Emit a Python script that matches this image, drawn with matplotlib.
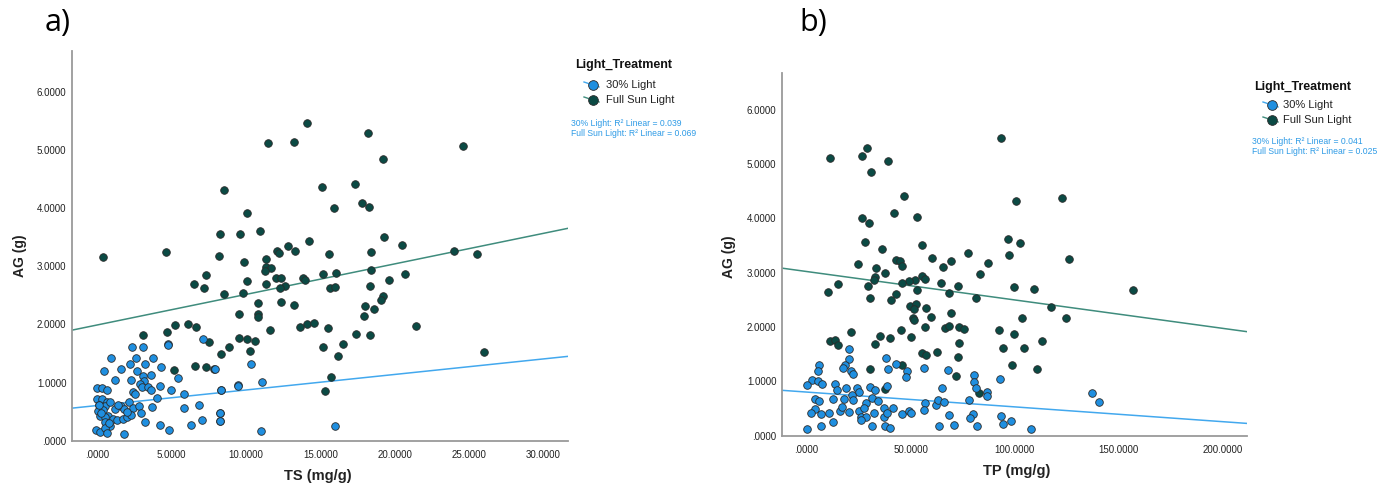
import matplotlib
matplotlib.use("Agg")
import matplotlib.pyplot as plt
from matplotlib.lines import Line2D
from matplotlib.ticker import FixedLocator, FuncFormatter
import numpy as np

plt.rcParams['font.family'] = ['Liberation Sans', 'DejaVu Sans']

# ---------------- data: panel a (TS vs AG) ----------------
a_low_ts = [2.36, 3.05, 4.73, 0.90, 0.47, 1.59, 2.2, 2.6, 3.23, 2.69, 3.72, 4.3, 1.17, 2.29, 3.05, 3.14,
            3.63, 2.85, 3.02, 3.43, 3.63, 4.21, 2.42, 2.56, 4.98, 5.45, 5.85, 4.04, -0.02, 0.34, 0.67,
            -0.02, 0.32, 0.67, 0.09, 0.5, 0.88, 0.03, 0.38, 0.72, 0.19, 0.54, 1.21, 1.57, 1.82, 2.13,
            2.38, 2.78, 2.96, 1.03, 1.32, 1.7, 1.97, 2.29, 3.66, 3.19, 0.5, 0.83, -0.09, 0.19, 0.54,
            0.65, 1.82, 4.24, 4.84, 5.83, 6.84, 6.32, 7.04, 8.23, 8.23, 8.3, 9.44, 7.08, 7.9, 9.46,
            11.05, 10.33, 11.02, 15.96, 8.31, 8.28, 8.28, 4.73, 0.25, 0.1, 1.4, 2.0, 0.8]
a_low_ag = [1.61, 1.61, 1.67, 1.43, 1.19, 1.23, 1.32, 1.42, 1.32, 1.20, 1.43, 1.26, 1.04, 1.04, 1.12, 1.02,
            1.13, 0.98, 0.93, 0.92, 0.88, 0.94, 0.84, 0.81, 0.88, 1.08, 0.81, 0.74, 0.90, 0.90, 0.87,
            0.72, 0.72, 0.67, 0.61, 0.59, 0.67, 0.51, 0.52, 0.43, 0.43, 0.40, 0.54, 0.60, 0.55, 0.66,
            0.56, 0.60, 0.47, 0.37, 0.36, 0.38, 0.41, 0.45, 0.58, 0.33, 0.32, 0.25, 0.19, 0.15, 0.22,
            0.14, 0.11, 0.27, 0.18, 0.57, 0.61, 0.27, 0.35, 0.47, 0.34, 0.88, 0.95, 1.74, 1.24, 0.94,
            1.01, 1.32, 0.17, 0.26, 0.88, 0.34, 0.47, 1.65, 0.48, 0.62, 0.62, 0.5, 0.3]

a_full_ts = [0.39, 4.64, 8.49, 11.5, 13.2, 14.1, 18.2, 24.6, 19.2, 15.1, 17.3, 17.8, 18.3, 15.9, 10.1, 8.22,
             9.61, 10.96, 14.25, 19.25, 20.5, 18.4, 24.0, 25.5, 15.6, 12.8, 13.3, 12.1, 12.2, 8.19, 9.85,
             11.36, 11.36, 11.7, 11.3, 18.4, 7.32, 12.0, 12.35, 15.2, 16.05, 20.7, 13.8, 14.0, 10.1, 6.48,
             7.17, 11.36, 12.6, 12.26, 15.66, 15.96, 18.35, 19.6, 8.52, 9.79, 19.2, 19.1, 10.8, 12.35,
             13.2, 18.0, 18.6, 9.55, 10.8, 10.8, 17.9, 14.1, 14.6, 13.6, 21.4, 5.21, 6.08, 6.66, 11.6,
             4.67, 15.5, 17.4, 18.34, 3.07, 9.55, 10.1, 10.6, 7.5, 8.83, 15.2, 16.5, 10.3, 8.31, 16.2,
             26.0, 6.54, 7.32, 7.83, 5.18, 15.7, 15.3]
a_full_ag = [3.15, 3.25, 4.31, 5.12, 5.14, 5.47, 5.29, 5.06, 4.85, 4.37, 4.41, 4.09, 4.02, 4.0, 3.91, 3.56,
             3.55, 3.61, 3.44, 3.51, 3.36, 3.25, 3.27, 3.21, 3.21, 3.34, 3.26, 3.27, 3.22, 3.18, 3.08,
             3.12, 2.98, 2.97, 2.91, 2.94, 2.85, 2.8, 2.8, 2.87, 2.89, 2.86, 2.79, 2.77, 2.75, 2.69,
             2.62, 2.69, 2.66, 2.62, 2.62, 2.64, 2.66, 2.77, 2.53, 2.54, 2.49, 2.42, 2.36, 2.39,
             2.33, 2.32, 2.26, 2.17, 2.18, 2.13, 2.15, 2.01, 2.03, 1.95, 1.97, 1.99, 2.0, 1.95, 1.9,
             1.87, 1.94, 1.84, 1.82, 1.81, 1.76, 1.74, 1.71, 1.69, 1.61, 1.61, 1.67, 1.55, 1.49, 1.46,
             1.53, 1.29, 1.27, 1.24, 1.22, 1.09, 0.86]

# ---------------- data: panel b (TP vs AG) ----------------
b_low_tp = [20.3, 20.6, 18.4, 17.6, 21.6, 22.2, 38.4, 42.9, 39.0, 48.5, 47.7, 56.5, 67.8, 80.5, 92.8, 6.1,
            5.4, 2.6, 5.8, 7.5, 0.5, 13.8, 14.7, 19.2, 24.2, 25.4, 30.7, 33.0, 38.9, 65.3, 80.5, 81.3,
            86.6, 86.9, 137.3, 140.6, 12.8, 4.2, 6.1, 18.2, 22.1, 22.2, 31.7, 34.6, 28.6, 37.1, 41.4,
            57.1, 62.1, 63.0, 66.2, 78.1, 56.5, 4.2, 2.2, 6.9, 10.9, 16.0, 17.1, 20.6, 25.4, 27.7, 26.4,
            28.8, 32.6, 37.4, 38.7, 45.8, 49.1, 50.4, 68.6, 79.8, 78.6, 93.4, 98.2, 94.6, 12.8, 26.4,
            31.7, 37.6, 40.3, 6.9, 0.5, 63.8, 70.9, 81.8, 107.8]
b_low_ag = [1.60, 1.41, 1.30, 1.24, 1.18, 1.13, 1.42, 1.31, 1.22, 1.18, 1.08, 1.24, 1.20, 1.11, 1.04, 1.30,
            1.19, 1.02, 1.00, 0.95, 0.93, 0.94, 0.83, 0.88, 0.87, 0.81, 0.89, 0.84, 0.91, 0.87, 0.98, 0.87,
            0.80, 0.72, 0.78, 0.61, 0.68, 0.67, 0.64, 0.68, 0.75, 0.65, 0.69, 0.63, 0.60, 0.51, 0.50,
            0.59, 0.57, 0.66, 0.61, 0.66, 0.47, 0.49, 0.41, 0.39, 0.42, 0.45, 0.52, 0.43, 0.45, 0.50, 0.34,
            0.34, 0.42, 0.34, 0.42, 0.40, 0.46, 0.42, 0.37, 0.40, 0.32, 0.35, 0.26, 0.21, 0.25, 0.28,
            0.17, 0.17, 0.14, 0.17, 0.12, 0.17, 0.19, 0.17, 0.12]

b_full_tp = [93.6, 11.5, 26.7, 29.1, 39.0, 30.9, 46.7, 100.5, 122.7, 42.2, 53.3, 26.7, 29.9, 28.2, 36.2,
             55.7, 96.6, 102.4, 97.1, 77.6, 125.9, 60.2, 87.0, 69.3, 65.6, 42.9, 45.1, 46.1, 24.6, 33.3,
             37.6, 32.96, 32.3, 55.5, 57.0, 52.0, 49.1, 45.8, 29.4, 15.2, 64.8, 73.0, 99.8, 109.3, 156.8,
             10.6, 53.1, 68.6, 30.6, 42.9, 40.6, 81.6, 83.4, 49.9, 52.8, 51.7, 57.3, 69.4, 117.3, 124.8,
             51.4, 51.7, 59.8, 103.7, 57.1, 66.4, 68.6, 73.4, 75.5, 92.6, 45.4, 21.6, 35.2, 40.3, 50.2,
             99.8, 73.1, 113.1, 11.4, 13.9, 15.2, 33.0, 94.6, 104.5, 55.5, 57.3, 62.9, 73.0, 98.9, 45.8,
             110.6, 30.7, 72.0, 37.9, 82.7]
b_full_ag = [5.48, 5.11, 5.14, 5.30, 5.06, 4.86, 4.41, 4.31, 4.37, 4.09, 4.02, 4.0, 3.91, 3.56, 3.44,
             3.51, 3.61, 3.55, 3.33, 3.36, 3.25, 3.26, 3.18, 3.21, 3.11, 3.24, 3.22, 3.12, 3.16, 3.09,
             3.0, 2.91, 2.86, 2.94, 2.89, 2.87, 2.85, 2.81, 2.76, 2.79, 2.81, 2.76, 2.74, 2.69, 2.68,
             2.65, 2.67, 2.62, 2.54, 2.61, 2.50, 2.54, 2.97, 2.39, 2.42, 2.33, 2.34, 2.26, 2.36, 2.17,
             2.16, 2.12, 2.18, 2.16, 2.0, 1.98, 2.02, 2.0, 1.96, 1.95, 1.94, 1.90, 1.83, 1.80, 1.82,
             1.87, 1.71, 1.74, 1.74, 1.76, 1.67, 1.69, 1.61, 1.61, 1.51, 1.48, 1.54, 1.45, 1.29, 1.29,
             1.22, 1.22, 1.09, 0.85, 0.79]

# fit lines (intercept, slope)
a_fit_low = (0.605, 0.0267)
a_fit_full = (1.99, 0.0525)
b_fit_low = (0.80, -0.00273)
b_fit_full = (3.02, -0.00524)

r2_a = ["30% Light: R\u00b2 Linear = 0.039", "Full Sun Light: R\u00b2 Linear = 0.069"]
r2_b = ["30% Light: R\u00b2 Linear = 0.041", "Full Sun Light: R\u00b2 Linear = 0.025"]
legend_labels = ["30% Light", "Full Sun Light"]

a_xticks = [0, 5, 10, 15, 20, 25, 30]
b_xticks = [0, 50, 100, 150, 200]
yticks = [0, 1, 2, 3, 4, 5, 6]

# ---------------- style ----------------
W, H = 1394, 488
C_LOW = '#1f8fe0'
C_FULL = '#0b4a44'
L_LOW = '#42a8ee'
L_FULL = '#3f8c7d'
R2_COL = '#2e9be6'
EDGE = '#2a2a2a'

fig = plt.figure(figsize=(W / 100, H / 100), dpi=100)


def fx(px):
    return px / W


def fy(py):
    return 1 - py / H


def fmt(v, pos=None):
    s = f"{v:.4f}"
    if s.startswith("0."):
        s = s[1:]
    return s


def setup(ax, xlim, ylim, xt):
    ax.set_xlim(*xlim)
    ax.set_ylim(*ylim)
    for sp in ['top', 'right']:
        ax.spines[sp].set_visible(False)
    for sp in ['left', 'bottom']:
        ax.spines[sp].set_color('#9a9a9a')
        ax.spines[sp].set_linewidth(1.3)
    ax.xaxis.set_major_locator(FixedLocator(xt))
    ax.yaxis.set_major_locator(FixedLocator(yticks))
    ax.xaxis.set_major_formatter(FuncFormatter(fmt))
    ax.yaxis.set_major_formatter(FuncFormatter(fmt))
    ax.tick_params(length=0, labelsize=7, colors='#222222')
    ax.tick_params(axis='x', pad=7)
    ax.tick_params(axis='y', pad=4)


def draw(ax, lx, ly, fx_, fy_, fit_low, fit_full, xlim):
    xs = np.array(xlim)
    ax.plot(xs, fit_full[0] + fit_full[1] * xs, color=L_FULL, lw=1.1, zorder=1, clip_on=True)
    ax.plot(xs, fit_low[0] + fit_low[1] * xs, color=L_LOW, lw=1.1, zorder=1, clip_on=True)
    ax.scatter(fx_, fy_, s=30, c=C_FULL, edgecolors=EDGE, linewidths=0.6, zorder=3)
    ax.scatter(lx, ly, s=30, c=C_LOW, edgecolors=EDGE, linewidths=0.6, zorder=4)


# panel a axes: left 72, right 568, top 51, bottom 440.7 (px)
axA = fig.add_axes([fx(72), fy(440.7), (568 - 72) / W, (440.7 - 51) / H])
xlimA = (-1.7, 31.65)
setup(axA, xlimA, (0, 6.7), a_xticks)
draw(axA, a_low_ts, a_low_ag, a_full_ts, a_full_ag, a_fit_low, a_fit_full, xlimA)

# panel b axes: left 782, right 1247, top 72.7, bottom 435.5
axB = fig.add_axes([fx(782), fy(435.5), (1247 - 782) / W, (435.5 - 72.7) / H])
xlimB = (-11.7, 211.5)
setup(axB, xlimB, (0, 6.68), b_xticks)
draw(axB, b_low_tp, b_low_ag, b_full_tp, b_full_ag, b_fit_low, b_fit_full, xlimB)

# panel letters
fig.text(fx(58), fy(23), "a)", fontsize=22, ha='center', va='center', family=['Open Sans', 'DejaVu Sans'])
fig.text(fx(813), fy(23), "b)", fontsize=22, ha='center', va='center', family=['Open Sans', 'DejaVu Sans'])

# axis labels
fig.text(fx(20), fy(256), "AG (g)", rotation=90, fontsize=10, fontweight='bold', ha='center', va='center',
         color='#222222')
fig.text(fx(318), fy(476), "TS (mg/g)", fontsize=10.5, fontweight='bold', ha='center', va='center',
         color='#222222')
fig.text(fx(729), fy(257), "AG (g)", rotation=90, fontsize=10, fontweight='bold', ha='center', va='center',
         color='#222222')
fig.text(fx(1017), fy(471), "TP (mg/g)", fontsize=10.5, fontweight='bold', ha='center', va='center',
         color='#222222')


def legend(x0, ytitle, mx, y1, y2, tx, r2x, r2y1, r2y2, r2):
    fig.text(fx(x0), fy(ytitle), "Light_Treatment", fontsize=9, fontweight='bold', ha='left', va='center',
             color='#111111')
    for yy, col, lc, lab in [(y1, C_LOW, L_LOW, legend_labels[0]), (y2, C_FULL, L_FULL, legend_labels[1])]:
        fig.add_artist(Line2D([fx(mx - 9), fx(mx + 6)], [fy(yy - 3), fy(yy + 2)], color=lc, lw=1.0,
                              transform=fig.transFigure))
        fig.add_artist(Line2D([fx(mx)], [fy(yy)], marker='o', markersize=7, markerfacecolor=col,
                              markeredgecolor=EDGE, markeredgewidth=0.6, linestyle='none',
                              transform=fig.transFigure))
        fig.text(fx(tx), fy(yy), lab, fontsize=8, ha='left', va='center', color='#222222')
    fig.text(fx(r2x), fy(r2y1), r2[0], fontsize=6.2, ha='left', va='center', color=R2_COL)
    fig.text(fx(r2x), fy(r2y2), r2[1], fontsize=6.2, ha='left', va='center', color=R2_COL)


legend(575, 65, 593, 85, 100, 606, 571, 123, 134, r2_a)
legend(1254, 87, 1272, 105, 120, 1283, 1252, 142, 152, r2_b)

fig.savefig("out.png", dpi=100)
